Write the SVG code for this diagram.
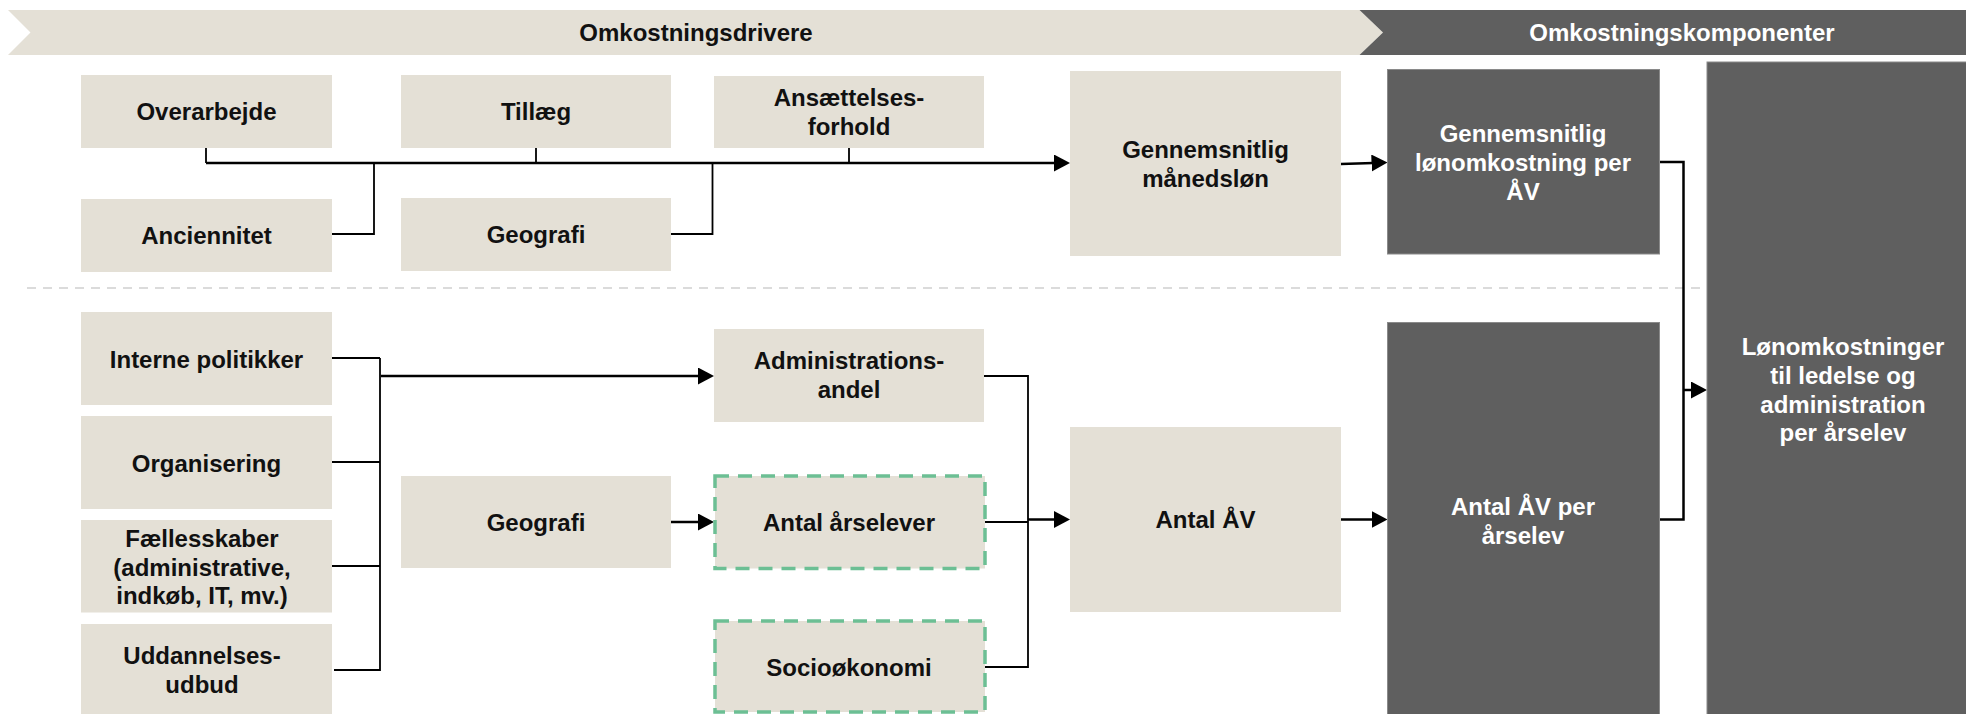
<svg xmlns="http://www.w3.org/2000/svg" width="1966" height="714" viewBox="0 0 1966 714">
<defs>
<style>
.b{fill:#e4e0d6}
.d{fill:#5f5f5f;stroke:#8a8a8a;stroke-width:1}
.g{fill:#e4e0d6;stroke:#6cbf94;stroke-width:3.5;stroke-dasharray:14 9}
.t{font-family:"Liberation Sans",Arial,sans-serif;font-weight:bold;font-size:24px;text-anchor:middle;fill:#111}
.w{fill:#ffffff}
.c{fill:none;stroke:#000;stroke-width:1.8}
.a{fill:none;stroke:#000;stroke-width:2.5}
</style>
<marker id="ah" markerUnits="userSpaceOnUse" markerWidth="16" markerHeight="18" refX="10" refY="8.5" orient="auto"><path d="M0,0 L16,8.5 L0,17 z" fill="#000"/></marker>
</defs>
<rect width="1966" height="714" fill="#fff"/>
<g id="banner-drivere">
<polygon class="b" points="8,10 1359.5,10 1383,32.5 1359.5,55 8,55 30.5,32.5"/>
<text class="t" x="696" y="41">Omkostningsdrivere</text>
</g>
<g id="banner-komponenter">
<polygon fill="#5f5f5f" points="1359.5,10 1966,10 1966,55 1359.5,55 1383,32.5"/>
<text class="t w" x="1682" y="41">Omkostningskomponenter</text>
</g>
<line x1="27" y1="288" x2="1966" y2="288" stroke="#cfcfcf" stroke-width="1.5" stroke-dasharray="9 7"/>
<g id="connectors">
<polyline class="c" points="206,148 206,163"/>
<polyline class="c" points="536,148 536,163"/>
<polyline class="c" points="849,148 849,163"/>
<polyline class="c" points="332,234 374,234 374,163"/>
<polyline class="c" points="671,234 712.5,234 712.5,163"/>
<line class="a" x1="206" y1="163" x2="1064" y2="163" marker-end="url(#ah)"/>
<line class="a" x1="1341" y1="164" x2="1381.5" y2="162.8" marker-end="url(#ah)"/>
<polyline class="c" points="332,358 380,358"/>
<polyline class="c" points="332,462 380,462"/>
<polyline class="c" points="332,566 380,566"/>
<polyline class="c" points="334,670 380,670 380,358"/>
<line class="a" x1="381" y1="376" x2="708" y2="376" marker-end="url(#ah)"/>
<line class="a" x1="671" y1="522" x2="708" y2="522" marker-end="url(#ah)"/>
<polyline class="c" points="984,376 1028,376 1028,667 984,667"/>
<polyline class="c" points="984,522 1028,522"/>
<line class="a" x1="1028" y1="519.5" x2="1064" y2="519.5" marker-end="url(#ah)"/>
<line class="a" x1="1341" y1="519.5" x2="1381.5" y2="519.5" marker-end="url(#ah)"/>
<polyline class="a" points="1659,162 1683.5,162 1683.5,519.5 1659,519.5"/>
<line class="a" x1="1683.5" y1="390" x2="1701" y2="390" marker-end="url(#ah)"/>
</g>
<g id="overarbejde"><rect class="b" x="81" y="75" width="251" height="73"/><text class="t" x="206.5" y="120">Overarbejde</text></g>
<g id="tillaeg"><rect class="b" x="401" y="75" width="270" height="73"/><text class="t" x="536" y="120">Tillæg</text></g>
<g id="ansaettelsesforhold"><rect class="b" x="714" y="76" width="270" height="72"/><text class="t" x="849" y="106">Ansættelses-</text><text class="t" x="849" y="135">forhold</text></g>
<g id="anciennitet"><rect class="b" x="81" y="199" width="251" height="73"/><text class="t" x="206.5" y="244">Anciennitet</text></g>
<g id="geografi-top"><rect class="b" x="401" y="198" width="270" height="73"/><text class="t" x="536" y="243">Geografi</text></g>
<g id="gennemsnitlig-maanedsloen"><rect class="b" x="1070" y="71" width="271" height="185"/><text class="t" x="1205.5" y="158">Gennemsnitlig</text><text class="t" x="1205.5" y="187">månedsløn</text></g>
<g id="gennemsnitlig-loenomkostning"><rect class="d" x="1387.5" y="69.5" width="272" height="184.5"/><text class="t w" x="1523" y="141.5">Gennemsnitlig</text><text class="t w" x="1523" y="170.5">lønomkostning per</text><text class="t w" x="1523" y="199.5">ÅV</text></g>
<g id="loenomkostninger-total"><rect class="d" x="1707" y="62" width="270" height="660"/><text class="t w" x="1843" y="355">Lønomkostninger</text><text class="t w" x="1843" y="384">til ledelse og</text><text class="t w" x="1843" y="412.5">administration</text><text class="t w" x="1843" y="441">per årselev</text></g>
<g id="interne-politikker"><rect class="b" x="81" y="312" width="251" height="93"/><text class="t" x="206.5" y="368">Interne politikker</text></g>
<g id="organisering"><rect class="b" x="81" y="416" width="251" height="93"/><text class="t" x="206.5" y="472">Organisering</text></g>
<g id="faellesskaber"><rect class="b" x="81" y="520" width="251" height="92.5"/><text class="t" x="202" y="547">Fællesskaber</text><text class="t" x="202" y="576">(administrative,</text><text class="t" x="202" y="604">indkøb, IT, mv.)</text></g>
<g id="uddannelsesudbud"><rect class="b" x="81" y="624" width="251" height="95"/><text class="t" x="202" y="664">Uddannelses-</text><text class="t" x="202" y="693">udbud</text></g>
<g id="geografi-bund"><rect class="b" x="401" y="476" width="270" height="92"/><text class="t" x="536" y="531">Geografi</text></g>
<g id="administrationsandel"><rect class="b" x="714" y="329" width="270" height="93"/><text class="t" x="849" y="369">Administrations-</text><text class="t" x="849" y="398">andel</text></g>
<g id="antal-aarselever"><rect class="g" x="715" y="476" width="270" height="92.5"/><text class="t" x="849" y="531">Antal årselever</text></g>
<g id="socioekonomi"><rect class="g" x="715" y="621" width="270" height="91"/><text class="t" x="849" y="676">Socioøkonomi</text></g>
<g id="antal-av"><rect class="b" x="1070" y="427" width="271" height="185"/><text class="t" x="1205.5" y="528">Antal ÅV</text></g>
<g id="antal-av-per-aarselev"><rect class="d" x="1387.5" y="322.5" width="272" height="400"/><text class="t w" x="1523" y="515">Antal ÅV per</text><text class="t w" x="1523" y="544">årselev</text></g>
</svg>
